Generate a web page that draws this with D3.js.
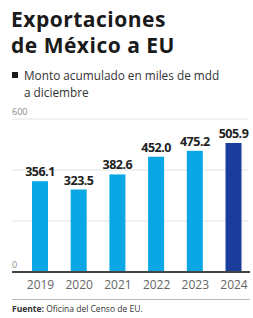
<!DOCTYPE html>
<html>
<head>
<meta charset="utf-8">
<script src="https://cdn.jsdelivr.net/npm/d3@7"></script>
<style>
  body { margin: 0; background: #fff; }
  svg { display: block; font-family: "Open Sans", "Noto Sans", sans-serif; }
</style>
</head>
<body>
<div id="chart"></div>
<script>
var years = ["2019", "2020", "2021", "2022", "2023", "2024"];
var values = [356.1, 323.5, 382.6, 452.0, 475.2, 505.9];
var gridTicks = [200, 400, 600];
var labelTicks = [0, 600];

var width = 253, height = 318;

var svg = d3.select("#chart")
    .append("svg")
    .attr("width", width)
    .attr("height", height);

// titulo
svg.append("text")
    .attr("x", 11).attr("y", 27)
    .attr("font-size", 21).attr("font-weight", 700)
    .attr("letter-spacing", 0.5)
    .attr("fill", "#1a1a1a")
    .text("Exportaciones");
svg.append("text")
    .attr("x", 11).attr("y", 53)
    .attr("font-size", 21).attr("font-weight", 700)
    .attr("letter-spacing", 0.5)
    .attr("fill", "#1a1a1a")
    .text("de México a EU");

// subtitulo
svg.append("rect")
    .attr("x", 12).attr("y", 72)
    .attr("width", 6).attr("height", 6)
    .attr("fill", "#1a1a1a");
svg.append("text")
    .attr("x", 24).attr("y", 80)
    .attr("font-size", 11.8)
    .attr("fill", "#333")
    .text("Monto acumulado en miles de mdd");
svg.append("text")
    .attr("x", 24).attr("y", 97)
    .attr("font-size", 11.8)
    .attr("fill", "#333")
    .text("a diciembre");

var x = d3.scalePoint()
    .domain(years)
    .range([20.65, 252.85])
    .padding(0.5);

var y = d3.scaleLinear()
    .domain([0, 600])
    .range([272, 119]);

var barW = 16;

// lineas de fondo
svg.selectAll(".grid")
    .data(gridTicks)
    .enter().append("line")
    .attr("class", "grid")
    .attr("x1", 12).attr("x2", 248)
    .attr("y1", function(d) { return y(d); })
    .attr("y2", function(d) { return y(d); })
    .attr("stroke", "#e2e2e2")
    .attr("stroke-width", 1);

svg.selectAll(".ylab")
    .data(labelTicks)
    .enter().append("text")
    .attr("class", "ylab")
    .attr("x", 12)
    .attr("y", function(d) { return y(d) - 4; })
    .attr("font-size", 9)
    .attr("fill", "#888")
    .text(function(d) { return d; });

// barras
svg.selectAll(".bar")
    .data(values)
    .enter().append("rect")
    .attr("class", "bar")
    .attr("x", function(d, i) { return x(years[i]) - barW / 2; })
    .attr("y", function(d) { return y(d); })
    .attr("width", barW)
    .attr("height", function(d) { return y(0) - y(d); })
    .attr("fill", function(d, i) { return i == years.length - 1 ? "#1c3c9c" : "#0ba7e4"; });

svg.selectAll(".val")
    .data(values)
    .enter().append("text")
    .attr("class", "val")
    .attr("x", function(d, i) { return x(years[i]); })
    .attr("y", function(d) { return y(d) - 5; })
    .attr("text-anchor", "middle")
    .attr("font-size", 12.5)
    .attr("font-weight", 700)
    .attr("letter-spacing", -0.5)
    .attr("fill", "#222")
    .text(function(d) { return d.toFixed(1); });

// eje
svg.append("line")
    .attr("x1", 12).attr("x2", 250)
    .attr("y1", y(0)).attr("y2", y(0))
    .attr("stroke", "#444")
    .attr("stroke-width", 2);

var xAxis = d3.axisBottom(x).tickSize(0).tickPadding(8);
var gx = svg.append("g")
    .attr("transform", "translate(0," + y(0) + ")")
    .call(xAxis);
gx.select(".domain").remove();
gx.selectAll("text")
    .attr("font-size", 12)
    .attr("font-family", "\"Open Sans\", sans-serif")
    .attr("fill", "#666");

// fuente
svg.append("line")
    .attr("x1", 12).attr("x2", 250)
    .attr("y1", 299.5).attr("y2", 299.5)
    .attr("stroke", "#bbb")
    .attr("stroke-width", 1);

var src = svg.append("text")
    .attr("x", 12).attr("y", 312)
    .attr("font-size", 8.5)
    .attr("fill", "#333");
src.append("tspan").attr("font-weight", 700).text("Fuente:");
src.append("tspan").text(" Oficina del Censo de EU.");
</script>
</body>
</html>
